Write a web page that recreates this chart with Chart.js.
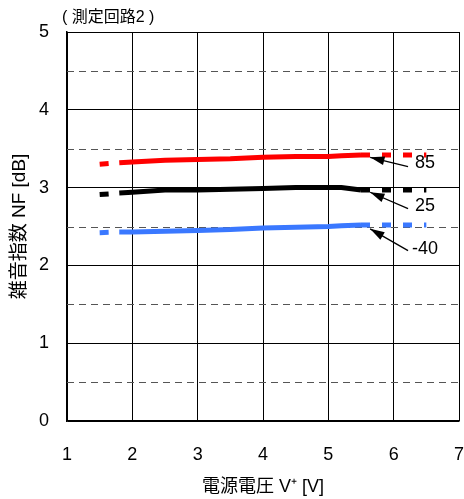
<!DOCTYPE html>
<html>
<head>
<meta charset="utf-8">
<script src="https://cdn.jsdelivr.net/npm/chart.js@4/dist/chart.umd.min.js"></script>
<style>
  html, body { margin: 0; padding: 0; background: #fff; }
  #wrap { width: 464px; height: 499px; }
</style>
</head>
<body>
<div id="wrap"><canvas id="nfChart" width="464" height="499"></canvas></div>
<script>
// supply voltage [V]
const voltages = [1.5, 1.8, 2, 2.5, 3, 3.5, 4, 4.5, 5, 5.2, 5.5, 6, 6.5];
// noise figure [dB] per temperature
const nf85 = [3.30, 3.32, 3.33, 3.35, 3.36, 3.37, 3.39, 3.40, 3.40, 3.41, 3.42, 3.42, 3.42];
const nf25 = [2.91, 2.93, 2.94, 2.97, 2.97, 2.98, 2.99, 3.00, 3.00, 3.00, 2.97, 2.97, 2.97];
const nfM40 = [2.42, 2.43, 2.43, 2.44, 2.45, 2.46, 2.48, 2.49, 2.50, 2.51, 2.52, 2.52, 2.52];

// measured range (solid); outside it the curve is dashed
const solidFrom = 1.8;
const solidTo = 5.5;

// temperature labels with leader arrows
const labelTexts = ['85', '25', '-40'];
const labelX = 6.48;
const labelYs = [3.32, 2.76, 2.21];
const arrowTailX = 6.22;
const arrowTailYs = [3.27, 2.73, 2.19];
const arrowHeadX = 5.64;
const arrowHeadYs = [3.39, 2.94, 2.47];

const FONT = "'Liberation Sans', Arial, 'Noto Sans CJK JP', sans-serif";
const isHalf = v => !Number.isInteger(v);

function series(values, color) {
  return {
    data: voltages.map((v, i) => ({ x: v, y: values[i] })),
    borderColor: color,
    backgroundColor: color,
    borderWidth: 5,
    pointRadius: 0,
    tension: 0,
    segment: {
      borderDash: ctx => (ctx.p0.parsed.x < solidFrom - 1e-6 || ctx.p0.parsed.x >= solidTo - 1e-6) ? [9, 12] : undefined
    }
  };
}

// dashed gridlines at the half steps of the y axis
const halfGrid = {
  id: 'halfGrid',
  beforeDatasetsDraw(chart) {
    const c = chart.ctx, area = chart.chartArea, ys = chart.scales.y;
    c.save();
    c.strokeStyle = '#555';
    c.lineWidth = 1;
    c.setLineDash([7, 5]);
    ys.ticks.forEach(t => {
      if (!isHalf(t.value)) return;
      const y = Math.round(ys.getPixelForValue(t.value)) + 0.5;
      c.beginPath();
      c.moveTo(area.left, y);
      c.lineTo(area.right, y);
      c.stroke();
    });
    c.restore();
  }
};

const notes = {
  id: 'notes',
  afterDatasetsDraw(chart) {
    const c = chart.ctx;
    const xs = chart.scales.x, ys = chart.scales.y;
    c.save();
    c.fillStyle = '#000';
    c.strokeStyle = '#000';
    c.lineWidth = 1.3;
    c.font = '18px ' + FONT;
    c.textAlign = 'center';
    c.textBaseline = 'middle';
    labelTexts.forEach((t, i) => {
      c.fillText(t, xs.getPixelForValue(labelX), ys.getPixelForValue(labelYs[i]));
      const x0 = xs.getPixelForValue(arrowTailX), y0 = ys.getPixelForValue(arrowTailYs[i]);
      const x1 = xs.getPixelForValue(arrowHeadX), y1 = ys.getPixelForValue(arrowHeadYs[i]);
      c.beginPath();
      c.moveTo(x0, y0);
      c.lineTo(x1, y1);
      c.stroke();
      const a = Math.atan2(y1 - y0, x1 - x0);
      const len = 15, w = 0.3;
      c.beginPath();
      c.moveTo(x1, y1);
      c.lineTo(x1 - len * Math.cos(a - w), y1 - len * Math.sin(a - w));
      c.lineTo(x1 - len * Math.cos(a + w), y1 - len * Math.sin(a + w));
      c.closePath();
      c.fill();
    });
    // caption above the plot
    c.font = '16px ' + FONT;
    c.textAlign = 'left';
    c.fillText('( 測定回路2 )', chart.chartArea.left - 5, 18);
    c.restore();
  }
};

new Chart(document.getElementById('nfChart'), {
  type: 'line',
  data: {
    datasets: [series(nf85, '#ff0000'), series(nf25, '#000000'), series(nfM40, '#3a78ff')]
  },
  options: {
    responsive: false,
    animation: false,
    layout: { padding: { top: 32, right: 5, left: 4, bottom: 1 } },
    plugins: { legend: { display: false }, tooltip: { enabled: false } },
    scales: {
      x: {
        type: 'linear',
        min: 1, max: 7,
        afterFit: s => { s.height = 77; s.paddingLeft = 0; s.paddingRight = 0; },
        ticks: { stepSize: 1, color: '#000', font: { size: 18, family: FONT }, padding: 23 },
        grid: { color: '#000', lineWidth: 1, drawTicks: false },
        border: { color: '#000', width: 1.5 },
        title: { display: true, text: '電源電圧 V⁺ [V]', color: '#000', font: { size: 18, family: FONT }, padding: 0 }
      },
      y: {
        min: 0, max: 5,
        afterFit: s => { s.width = 63; s.paddingTop = 0; s.paddingBottom = 0; },
        ticks: {
          stepSize: 0.5, color: '#000', font: { size: 18, family: FONT }, padding: 18,
          callback: v => (isHalf(v) ? '' : v)
        },
        grid: {
          drawTicks: false,
          color: ctx => (ctx.tick && isHalf(ctx.tick.value) ? 'rgba(0,0,0,0)' : '#000')
        },
        border: { color: '#000', width: 1.5 },
        title: { display: true, text: '雑音指数 NF [dB]', color: '#000', font: { size: 19, family: FONT }, padding: { top: 4, bottom: 0 } }
      }
    }
  },
  plugins: [halfGrid, notes]
});
</script>
</body>
</html>
